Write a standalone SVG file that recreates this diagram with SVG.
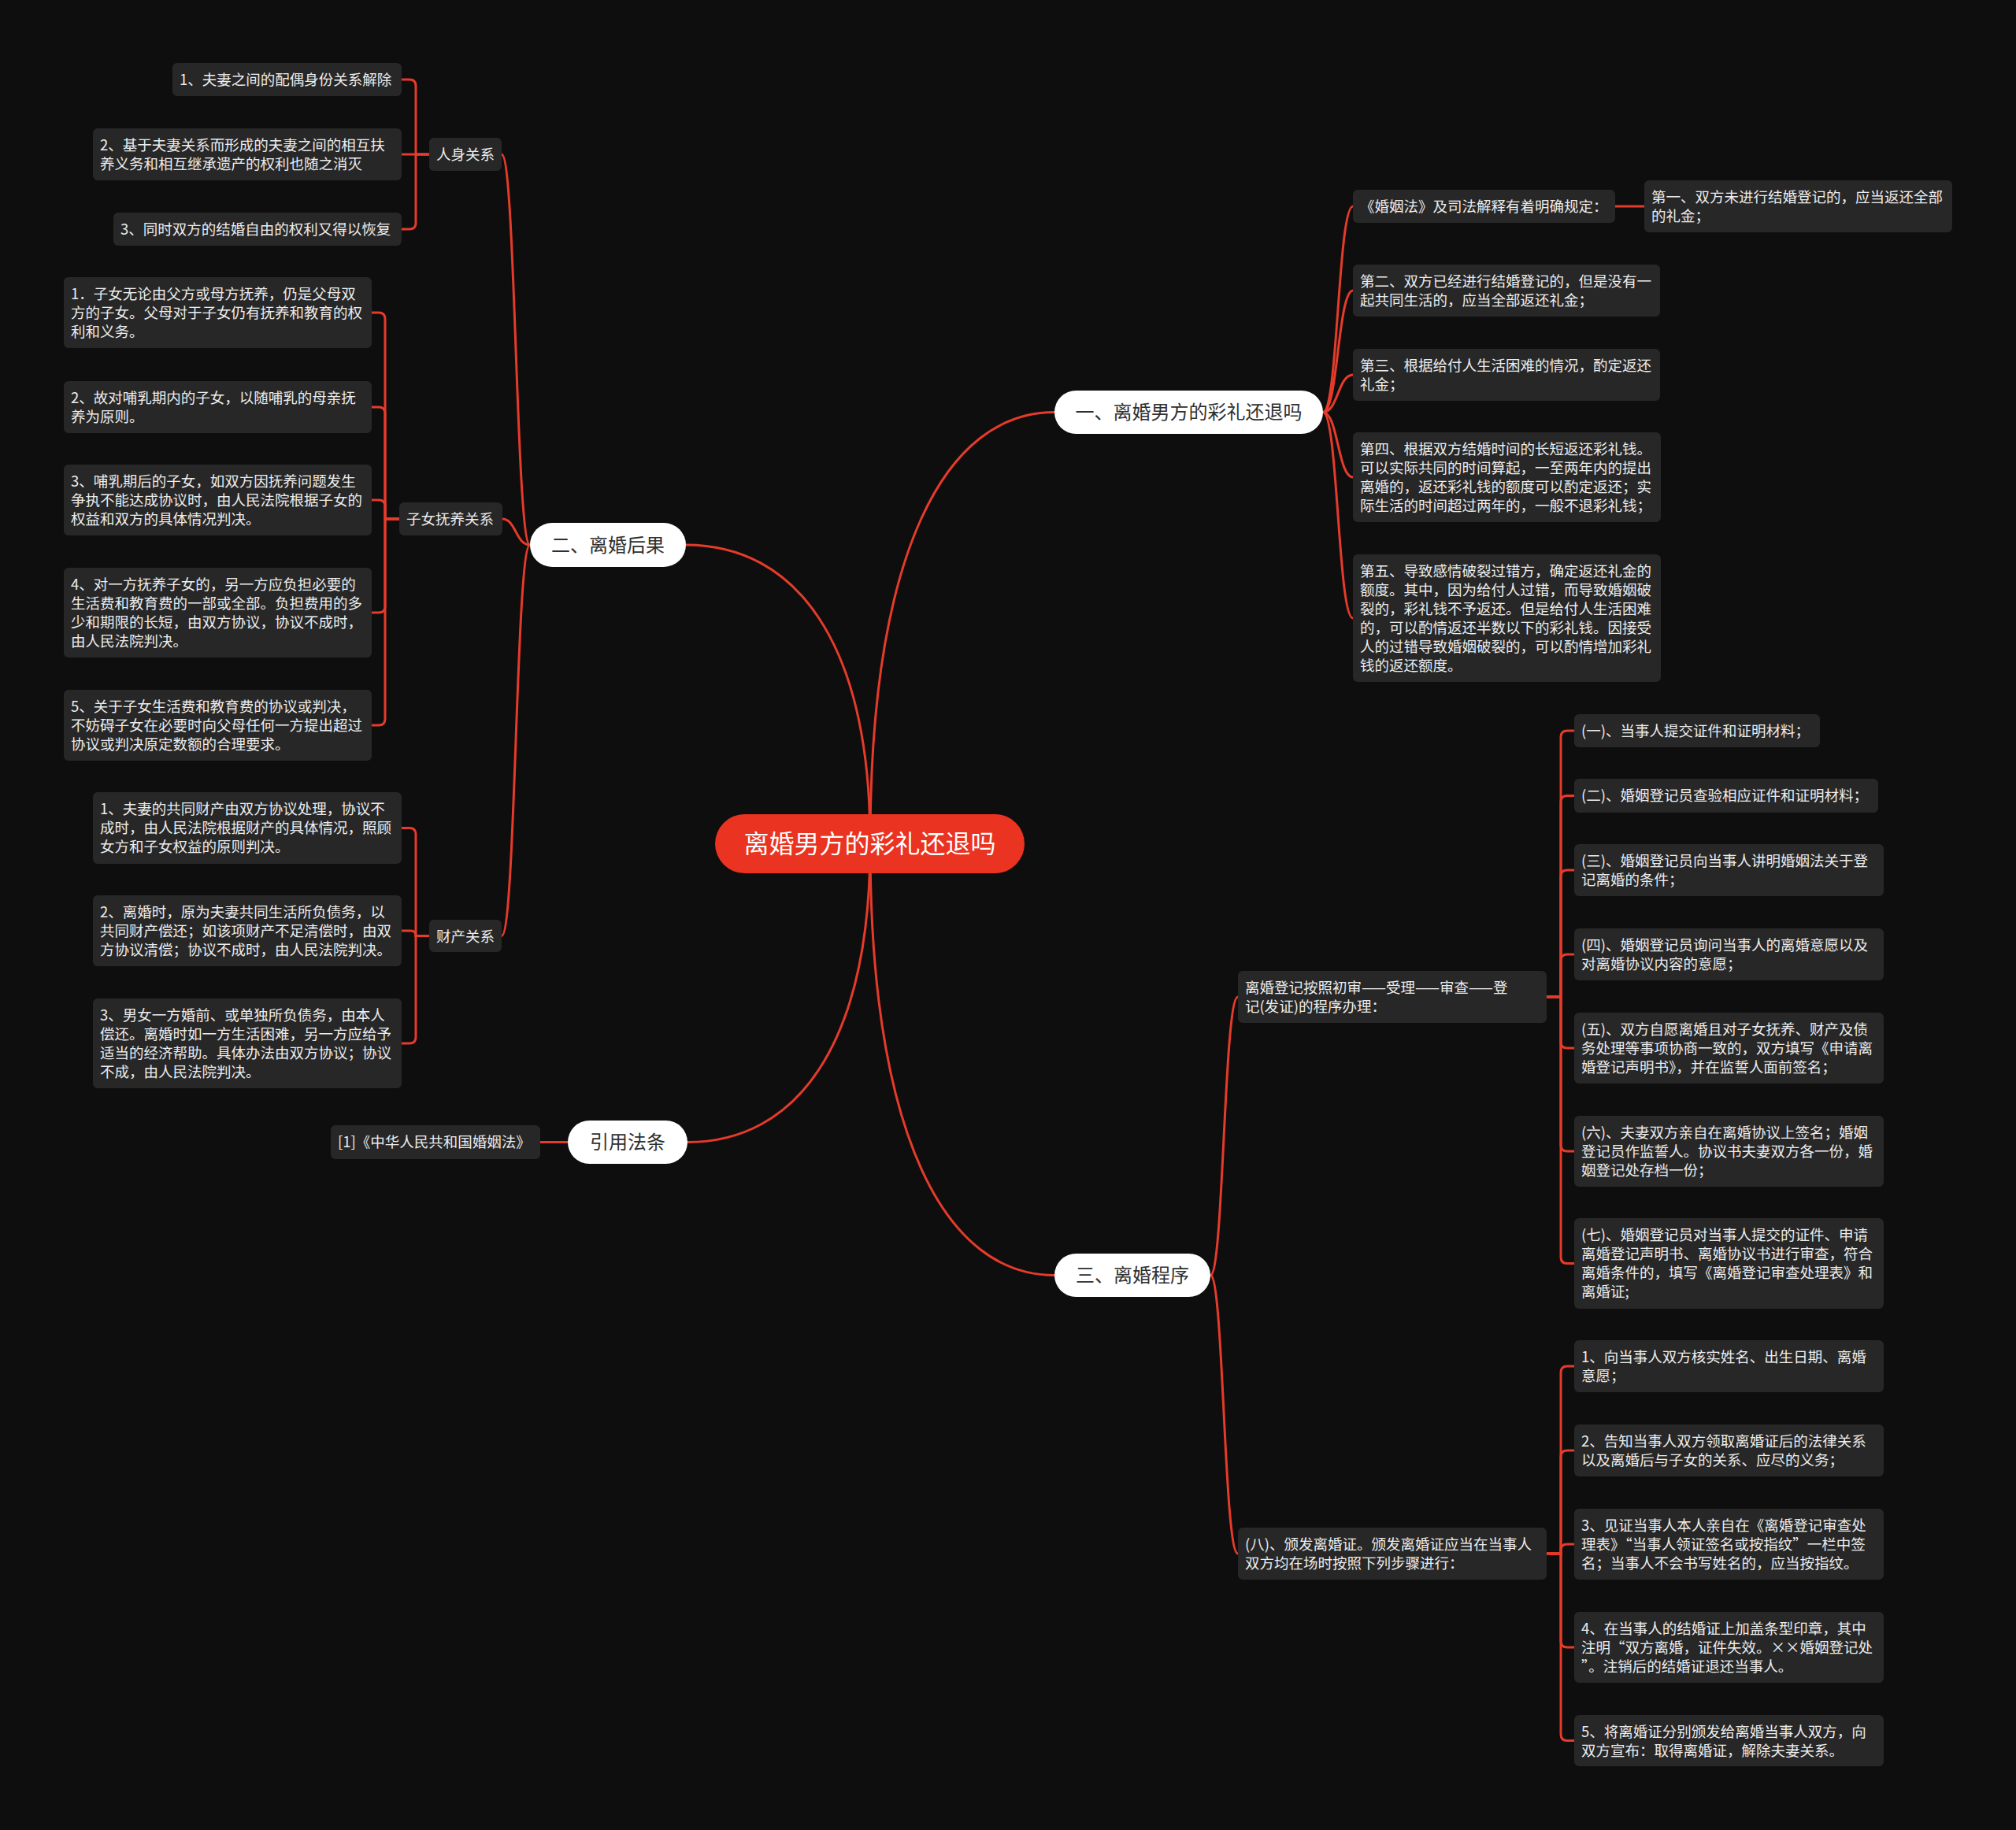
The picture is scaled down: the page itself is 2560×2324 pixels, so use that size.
<svg xmlns="http://www.w3.org/2000/svg" width="2560" height="2324" viewBox="0 0 2560 2324">
<style>
text{font-family:"Noto Sans CJK SC","Microsoft YaHei","Noto Sans",sans-serif;}
.leaf rect{fill:#272727;}
.leaf text{fill:#ededed;font-size:18.5px;}
.l1 rect{fill:#ffffff;}
.l1 text{fill:#303030;font-size:24px;text-anchor:middle;}
.root rect{fill:#ea3320;}
.root text{fill:#ffffff;font-size:32px;text-anchor:middle;}
.conn path{fill:none;stroke:#e53b2a;stroke-width:3;stroke-linecap:round;}
</style>
<rect width="2560" height="2324" fill="#0e0e0e"/>
<g id="connectors" class="conn">
<path d="M1105,1071 C1105,699 1201,523.5 1339,523.5"/>
<path d="M1105,1071 C1105,813 1009,692 871,692"/>
<path d="M1105,1071 C1105,1329 1010,1450.5 873,1450.5"/>
<path d="M1105,1071 C1105,1444 1201,1619.5 1339,1619.5"/>
<path d="M673,692 C655,692 655,196 637,196"/>
<path d="M673,692 C655,692 655,659 638,659"/>
<path d="M673,692 C655,692 655,1188.5 637,1188.5"/>
<path d="M1680,523.5 C1699,523.5 1699,262 1718,262"/>
<path d="M1680,523.5 C1699,523.5 1699,369 1718,369"/>
<path d="M1680,523.5 C1699,523.5 1699,476 1718,476"/>
<path d="M1680,523.5 C1699,523.5 1699,606 1718,606"/>
<path d="M1680,523.5 C1699,523.5 1699,785 1718,785"/>
<path d="M2051,262 H2088"/>
<path d="M1537,1619.5 C1554,1619.5 1554,1266 1572,1266"/>
<path d="M1537,1619.5 C1554,1619.5 1554,1973 1572,1973"/>
<path d="M686,1450.5 H721"/>
<path d="M545,196 H528 V109 Q528,101 520,101 H510"/>
<path d="M545,196 H510"/>
<path d="M545,196 H528 V283 Q528,291 520,291 H510"/>
<path d="M507,659 H489 V405 Q489,397 481,397 H472"/>
<path d="M507,659 H489 V525 Q489,517 481,517 H472"/>
<path d="M507,659 H489 V643 Q489,635 481,635 H472"/>
<path d="M507,659 H489 V770 Q489,778 481,778 H472"/>
<path d="M507,659 H489 V913 Q489,921 481,921 H472"/>
<path d="M545,1188.5 H528 V1059.5 Q528,1051.5 520,1051.5 H510"/>
<path d="M545,1188.5 H528 Q528,1182 521.5,1182 H510"/>
<path d="M545,1188.5 H528 V1317 Q528,1325 520,1325 H510"/>
<path d="M1964,1266 H1982 V936 Q1982,928 1990,928 H1999"/>
<path d="M1964,1266 H1982 V1018.5 Q1982,1010.5 1990,1010.5 H1999"/>
<path d="M1964,1266 H1982 V1113 Q1982,1105 1990,1105 H1999"/>
<path d="M1964,1266 H1982 V1220 Q1982,1212 1990,1212 H1999"/>
<path d="M1964,1266 H1982 V1323 Q1982,1331 1990,1331 H1999"/>
<path d="M1964,1266 H1982 V1454 Q1982,1462 1990,1462 H1999"/>
<path d="M1964,1266 H1982 V1596.5 Q1982,1604.5 1990,1604.5 H1999"/>
<path d="M1964,1973 H1982 V1743 Q1982,1735 1990,1735 H1999"/>
<path d="M1964,1973 H1982 V1850 Q1982,1842 1990,1842 H1999"/>
<path d="M1964,1973 H1982 V1969 Q1982,1961 1990,1961 H1999"/>
<path d="M1964,1973 H1982 V2084 Q1982,2092 1990,2092 H1999"/>
<path d="M1964,1973 H1982 V2202.5 Q1982,2210.5 1990,2210.5 H1999"/>
</g>

<g id="root" class="root"><rect x="908" y="1034" width="393" height="75" rx="37.5"/><text x="1104.5" y="1082.5">离婚男方的彩礼还退吗</text></g>

<g id="b1" class="l1"><rect x="1339" y="496" width="341" height="55" rx="27.5"/><text x="1509.5" y="532">一、离婚男方的彩礼还退吗</text></g>
<g id="b2" class="l1"><rect x="673" y="664" width="198" height="56" rx="28"/><text x="772" y="700.5">二、离婚后果</text></g>
<g id="b3" class="l1"><rect x="1339" y="1592" width="198" height="55" rx="27.5"/><text x="1438" y="1628">三、离婚程序</text></g>
<g id="b4" class="l1"><rect x="721" y="1423" width="152" height="55" rx="27.5"/><text x="797" y="1459">引用法条</text></g>

<g id="rs" class="leaf"><rect x="545" y="175" width="92" height="42" rx="6"/><text x="554" y="203">人身关系</text></g>
<g id="rs1" class="leaf"><rect x="219" y="80" width="291" height="42" rx="6"/><text x="228" y="108">1、夫妻之间的配偶身份关系解除</text></g>
<g id="rs2" class="leaf"><rect x="118" y="163" width="392" height="66" rx="6"/><text x="127" y="191">2、基于夫妻关系而形成的夫妻之间的相互扶<tspan x="127" y="215">养义务和相互继承遗产的权利也随之消灭</tspan></text></g>
<g id="rs3" class="leaf"><rect x="144" y="270" width="366" height="42" rx="6"/><text x="153" y="298">3、同时双方的结婚自由的权利又得以恢复</text></g>

<g id="zn" class="leaf"><rect x="507" y="638" width="131" height="42" rx="6"/><text x="516" y="666">子女抚养关系</text></g>
<g id="zn1" class="leaf"><rect x="81" y="352" width="391" height="90" rx="6"/><text x="90" y="380">1．子女无论由父方或母方抚养，仍是父母双<tspan x="90" y="404">方的子女。父母对于子女仍有抚养和教育的权</tspan><tspan x="90" y="428">利和义务。</tspan></text></g>
<g id="zn2" class="leaf"><rect x="81" y="484" width="391" height="66" rx="6"/><text x="90" y="512">2、故对哺乳期内的子女，以随哺乳的母亲抚<tspan x="90" y="536">养为原则。</tspan></text></g>
<g id="zn3" class="leaf"><rect x="81" y="590" width="391" height="90" rx="6"/><text x="90" y="618">3、哺乳期后的子女，如双方因抚养问题发生<tspan x="90" y="642">争执不能达成协议时，由人民法院根据子女的</tspan><tspan x="90" y="666">权益和双方的具体情况判决。</tspan></text></g>
<g id="zn4" class="leaf"><rect x="81" y="721" width="391" height="114" rx="6"/><text x="90" y="749">4、对一方抚养子女的，另一方应负担必要的<tspan x="90" y="773">生活费和教育费的一部或全部。负担费用的多</tspan><tspan x="90" y="797">少和期限的长短，由双方协议，协议不成时，</tspan><tspan x="90" y="821">由人民法院判决。</tspan></text></g>
<g id="zn5" class="leaf"><rect x="81" y="876" width="391" height="90" rx="6"/><text x="90" y="904">5、关于子女生活费和教育费的协议或判决，<tspan x="90" y="928">不妨碍子女在必要时向父母任何一方提出超过</tspan><tspan x="90" y="952">协议或判决原定数额的合理要求。</tspan></text></g>

<g id="cc" class="leaf"><rect x="545" y="1168" width="92" height="41" rx="6"/><text x="554" y="1196">财产关系</text></g>
<g id="cc1" class="leaf"><rect x="118" y="1006" width="392" height="91" rx="6"/><text x="127" y="1034">1、夫妻的共同财产由双方协议处理，协议不<tspan x="127" y="1058">成时，由人民法院根据财产的具体情况，照顾</tspan><tspan x="127" y="1082">女方和子女权益的原则判决。</tspan></text></g>
<g id="cc2" class="leaf"><rect x="118" y="1137" width="392" height="90" rx="6"/><text x="127" y="1165">2、离婚时，原为夫妻共同生活所负债务，以<tspan x="127" y="1189">共同财产偿还；如该项财产不足清偿时，由双</tspan><tspan x="127" y="1213">方协议清偿；协议不成时，由人民法院判决。</tspan></text></g>
<g id="cc3" class="leaf"><rect x="118" y="1268" width="392" height="114" rx="6"/><text x="127" y="1296">3、男女一方婚前、或单独所负债务，由本人<tspan x="127" y="1320">偿还。离婚时如一方生活困难，另一方应给予</tspan><tspan x="127" y="1344">适当的经济帮助。具体办法由双方协议；协议</tspan><tspan x="127" y="1368">不成，由人民法院判决。</tspan></text></g>

<g id="law" class="leaf"><rect x="420" y="1429" width="266" height="43" rx="6"/><text x="429" y="1457">[1]《中华人民共和国婚姻法》</text></g>

<g id="a0" class="leaf"><rect x="1718" y="241" width="333" height="42" rx="6"/><text x="1727" y="269">《婚姻法》及司法解释有着明确规定：</text></g>
<g id="a1" class="leaf"><rect x="2088" y="229" width="391" height="66" rx="6"/><text x="2097" y="257">第一、双方未进行结婚登记的，应当返还全部<tspan x="2097" y="281">的礼金；</tspan></text></g>
<g id="a2" class="leaf"><rect x="1718" y="336" width="390" height="66" rx="6"/><text x="1727" y="364">第二、双方已经进行结婚登记的，但是没有一<tspan x="1727" y="388">起共同生活的，应当全部返还礼金；</tspan></text></g>
<g id="a3" class="leaf"><rect x="1718" y="443" width="390" height="66" rx="6"/><text x="1727" y="471">第三、根据给付人生活困难的情况，酌定返还<tspan x="1727" y="495">礼金；</tspan></text></g>
<g id="a4" class="leaf"><rect x="1718" y="549" width="391" height="114" rx="6"/><text x="1727" y="577">第四、根据双方结婚时间的长短返还彩礼钱。<tspan x="1727" y="601">可以实际共同的时间算起，一至两年内的提出</tspan><tspan x="1727" y="625">离婚的，返还彩礼钱的额度可以酌定返还；实</tspan><tspan x="1727" y="649">际生活的时间超过两年的，一般不退彩礼钱；</tspan></text></g>
<g id="a5" class="leaf"><rect x="1718" y="704" width="391" height="162" rx="6"/><text x="1727" y="732">第五、导致感情破裂过错方，确定返还礼金的<tspan x="1727" y="756">额度。其中，因为给付人过错，而导致婚姻破</tspan><tspan x="1727" y="780">裂的，彩礼钱不予返还。但是给付人生活困难</tspan><tspan x="1727" y="804">的，可以酌情返还半数以下的彩礼钱。因接受</tspan><tspan x="1727" y="828">人的过错导致婚姻破裂的，可以酌情增加彩礼</tspan><tspan x="1727" y="852">钱的返还额度。</tspan></text></g>

<g id="q1" class="leaf"><rect x="1572" y="1233" width="392" height="66" rx="6"/><text x="1581" y="1261">离婚登记按照初审——受理——审查——登<tspan x="1581" y="1285">记(发证)的程序办理：</tspan></text></g>
<g id="q2" class="leaf"><rect x="1572" y="1940" width="392" height="66" rx="6"/><text x="1581" y="1968">(八)、颁发离婚证。颁发离婚证应当在当事人<tspan x="1581" y="1992">双方均在场时按照下列步骤进行：</tspan></text></g>

<g id="r1" class="leaf"><rect x="1999" y="907" width="312" height="42" rx="6"/><text x="2008" y="935">(一)、当事人提交证件和证明材料；</text></g>
<g id="r2" class="leaf"><rect x="1999" y="989" width="386" height="43" rx="6"/><text x="2008" y="1017">(二)、婚姻登记员查验相应证件和证明材料；</text></g>
<g id="r3" class="leaf"><rect x="1999" y="1072" width="393" height="66" rx="6"/><text x="2008" y="1100">(三)、婚姻登记员向当事人讲明婚姻法关于登<tspan x="2008" y="1124">记离婚的条件；</tspan></text></g>
<g id="r4" class="leaf"><rect x="1999" y="1179" width="393" height="66" rx="6"/><text x="2008" y="1207">(四)、婚姻登记员询问当事人的离婚意愿以及<tspan x="2008" y="1231">对离婚协议内容的意愿；</tspan></text></g>
<g id="r5" class="leaf"><rect x="1999" y="1286" width="393" height="90" rx="6"/><text x="2008" y="1314">(五)、双方自愿离婚且对子女抚养、财产及债<tspan x="2008" y="1338">务处理等事项协商一致的，双方填写《申请离</tspan><tspan x="2008" y="1362">婚登记声明书》，并在监誓人面前签名；</tspan></text></g>
<g id="r6" class="leaf"><rect x="1999" y="1417" width="393" height="90" rx="6"/><text x="2008" y="1445">(六)、夫妻双方亲自在离婚协议上签名；婚姻<tspan x="2008" y="1469">登记员作监誓人。协议书夫妻双方各一份，婚</tspan><tspan x="2008" y="1493">姻登记处存档一份；</tspan></text></g>
<g id="r7" class="leaf"><rect x="1999" y="1547" width="393" height="115" rx="6"/><text x="2008" y="1575">(七)、婚姻登记员对当事人提交的证件、申请<tspan x="2008" y="1599">离婚登记声明书、离婚协议书进行审查，符合</tspan><tspan x="2008" y="1623">离婚条件的，填写《离婚登记审查处理表》和</tspan><tspan x="2008" y="1647">离婚证;</tspan></text></g>

<g id="s1" class="leaf"><rect x="1999" y="1702" width="393" height="66" rx="6"/><text x="2008" y="1730">1、向当事人双方核实姓名、出生日期、离婚<tspan x="2008" y="1754">意愿；</tspan></text></g>
<g id="s2" class="leaf"><rect x="1999" y="1809" width="393" height="66" rx="6"/><text x="2008" y="1837">2、告知当事人双方领取离婚证后的法律关系<tspan x="2008" y="1861">以及离婚后与子女的关系、应尽的义务；</tspan></text></g>
<g id="s3" class="leaf"><rect x="1999" y="1916" width="393" height="90" rx="6"/><text x="2008" y="1944">3、见证当事人本人亲自在《离婚登记审查处<tspan x="2008" y="1968">理表》“当事人领证签名或按指纹”一栏中签</tspan><tspan x="2008" y="1992">名；当事人不会书写姓名的，应当按指纹。</tspan></text></g>
<g id="s4" class="leaf"><rect x="1999" y="2047" width="393" height="90" rx="6"/><text x="2008" y="2075">4、在当事人的结婚证上加盖条型印章，其中<tspan x="2008" y="2099">注明“双方离婚，证件失效。××婚姻登记处</tspan><tspan x="2008" y="2123">”。注销后的结婚证退还当事人。</tspan></text></g>
<g id="s5" class="leaf"><rect x="1999" y="2178" width="393" height="65" rx="6"/><text x="2008" y="2206">5、将离婚证分别颁发给离婚当事人双方，向<tspan x="2008" y="2230">双方宣布：取得离婚证，解除夫妻关系。</tspan></text></g>
</svg>
